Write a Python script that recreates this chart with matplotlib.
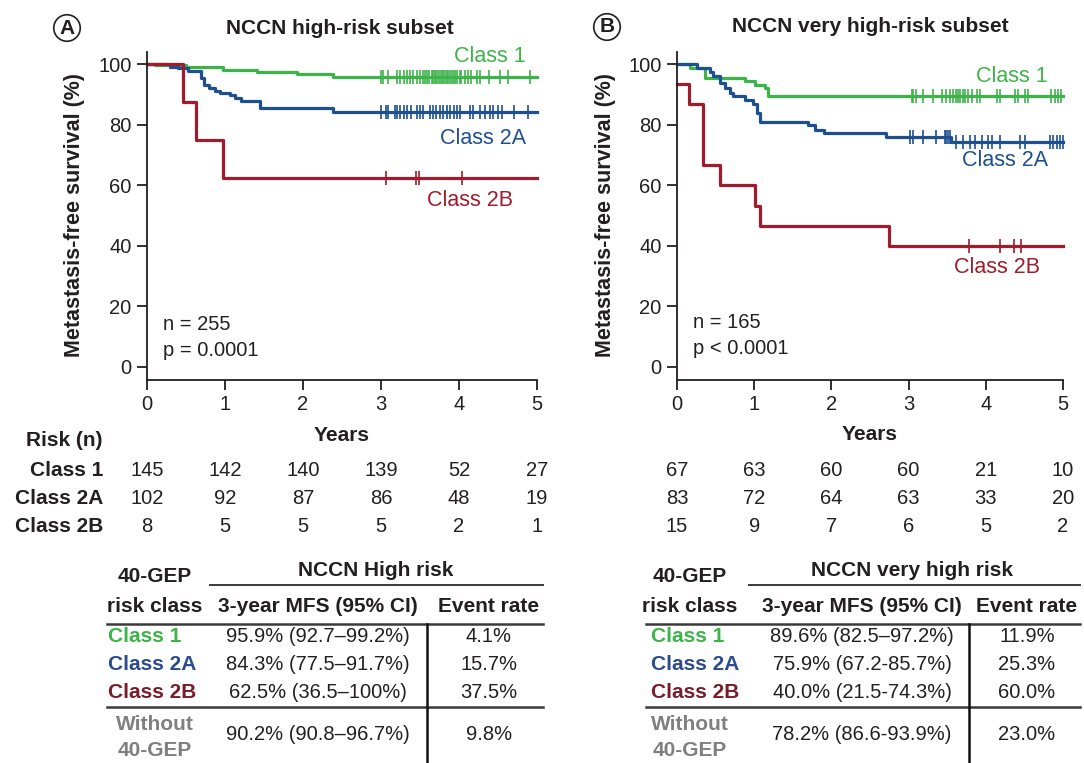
import numpy as np
import matplotlib
matplotlib.use("Agg")
import matplotlib.pyplot as plt
from matplotlib.lines import Line2D

plt.rcParams['font.family'] = ['Liberation Sans', 'DejaVu Sans']

W, H = 1084, 763
INK = '#231f20'
GREEN = '#3db449'
BLUE = '#1d4f91'
RED = '#a01c2c'
GRAY = '#7f7f7f'
FS = 14.5      # plain text
FB = 15        # bold text

# ---- Panel A: NCCN high-risk subset (survival curves)
a_c1_t = [0, 0.10, 0.50, 0.98, 1.41, 1.92, 2.39]
a_c1_s = [100, 99.6, 98.9, 98.2, 97.4, 96.7, 95.9]
a_c1_cens = [3.00, 3.03, 3.09, 3.20, 3.24, 3.29, 3.33, 3.37, 3.41, 3.46, 3.50, 3.54,
             3.57, 3.59, 3.62, 3.65, 3.67, 3.69, 3.71, 3.73, 3.76, 3.78, 3.80, 3.82,
             3.84, 3.86, 3.88, 3.91, 3.93, 3.95, 3.97, 4.01, 4.03, 4.08, 4.12, 4.16,
             4.23, 4.27, 4.38, 4.53, 4.63, 4.91]
a_c2a_t = [0, 0.29, 0.40, 0.53, 0.69, 0.73, 0.79, 0.87, 0.94, 1.06, 1.13, 1.21, 1.45, 2.39]
a_c2a_s = [100, 99.2, 98.6, 97.7, 95.3, 93.1, 92.0, 91.2, 90.5, 89.8, 88.9, 87.9, 85.6, 84.3]
a_c2a_cens = [3.00, 3.06, 3.09, 3.18, 3.21, 3.24, 3.29, 3.33, 3.39, 3.46, 3.50, 3.54,
              3.63, 3.67, 3.71, 3.76, 3.80, 3.84, 3.88, 3.93, 3.97, 4.01, 4.14, 4.18,
              4.27, 4.33, 4.40, 4.44, 4.50, 4.55, 4.70, 4.89]
a_c2b_t = [0, 0.46, 0.63, 0.98]
a_c2b_s = [100, 87.5, 75.0, 62.5]
a_c2b_cens = [3.06, 3.45, 3.49, 4.04]

# ---- Panel B: NCCN very high-risk subset
b_c1_t = [0, 0.17, 0.36, 0.88, 1.01, 1.14, 1.18]
b_c1_s = [100, 98.8, 95.5, 94.4, 93.0, 92.0, 89.6]
b_c1_cens = [3.04, 3.06, 3.10, 3.19, 3.32, 3.43, 3.49, 3.54, 3.58, 3.61, 3.64, 3.67,
             3.71, 3.73, 3.77, 3.82, 3.88, 3.92, 4.14, 4.18, 4.38, 4.42, 4.51, 4.55,
             4.85, 4.90, 4.94, 4.98]
b_c2a_t = [0, 0.255, 0.43, 0.47, 0.56, 0.62, 0.69, 0.73, 0.88, 0.99, 1.04, 1.08,
           1.70, 1.79, 1.90, 2.71, 3.55]
b_c2a_s = [100, 98.8, 97.5, 96.0, 93.8, 92.2, 90.5, 89.4, 88.3, 86.7, 83.9, 81.0,
           79.8, 78.4, 77.1, 76.0, 74.4]
b_c2a_cens = [3.02, 3.06, 3.19, 3.36, 3.47, 3.49, 3.51, 3.54, 3.62, 3.71, 3.80, 3.86,
              3.95, 4.03, 4.08, 4.18, 4.44, 4.51, 4.83, 4.87, 4.92, 4.96, 5.00]
b_c2b_t = [0, 0.15, 0.34, 0.56, 1.01, 1.07, 2.75]
b_c2b_s = [93.3, 86.7, 66.7, 60.0, 53.3, 46.7, 40.0]
b_c2b_cens = [3.78, 4.18, 4.36, 4.45]

# numbers at risk
years = [0, 1, 2, 3, 4, 5]
a_risk = {'Class 1': [145, 142, 140, 139, 52, 27],
          'Class 2A': [102, 92, 87, 86, 48, 19],
          'Class 2B': [8, 5, 5, 5, 2, 1]}
b_risk = {'Class 1': [67, 63, 60, 60, 21, 10],
          'Class 2A': [83, 72, 64, 63, 33, 20],
          'Class 2B': [15, 9, 7, 6, 5, 2]}

# summary tables
row_names = ['Class 1', 'Class 2A', 'Class 2B']
a_mfs = ['95.9% (92.7–99.2%)', '84.3% (77.5–91.7%)', '62.5% (36.5–100%)']
a_evt = ['4.1%', '15.7%', '37.5%']
a_all = ['90.2% (90.8–96.7%)', '9.8%']
b_mfs = ['89.6% (82.5–97.2%)', '75.9% (67.2-85.7%)', '40.0% (21.5-74.3%)']
b_evt = ['11.9%', '25.3%', '60.0%']
b_all = ['78.2% (86.6-93.9%)', '23.0%']

fig = plt.figure(figsize=(W / 100, H / 100), dpi=100)


def ftxt(x, y, s, **kw):
    kw.setdefault('va', 'center')
    kw.setdefault('color', INK)
    kw.setdefault('fontsize', FS)
    fig.text(x / W, 1 - y / H, s, **kw)


def btxt(x, y, s, **kw):
    kw.setdefault('fontsize', FB)
    ftxt(x, y, s, fontweight='bold', **kw)


def fline(x0, x1, y0, y1, lw=1.6, color='#3a3a3a'):
    fig.add_artist(Line2D([x0 / W, x1 / W], [1 - y0 / H, 1 - y1 / H],
                          transform=fig.transFigure, lw=lw, color=color))


def step_at(t, s, c):
    idx = np.searchsorted(t, c, side='right') - 1
    return np.asarray(s)[idx]


def km(ax, t, s, cens, color):
    tt = np.append(t, 5.0)
    ss = np.append(s, s[-1])
    ax.step(tt, ss, where='post', color=color, lw=2.3, clip_on=False)
    ax.plot(cens, step_at(t, s, cens), ls='none', marker='|', ms=10, mew=1.2,
            color=color, clip_on=False)


def setup(ax):
    ax.set_xlim(0, 5)
    ax.set_ylim(-4.3, 104)
    ax.set_yticks([0, 20, 40, 60, 80, 100])
    ax.set_xticks(years)
    for sp in ['top', 'right']:
        ax.spines[sp].set_visible(False)
    for sp in ['left', 'bottom']:
        ax.spines[sp].set_linewidth(1.3)
        ax.spines[sp].set_color(INK)
    ax.tick_params(direction='out', length=7, width=1.3, labelsize=FS,
                   colors=INK, pad=4)


axA = fig.add_axes([147 / W, 1 - 380 / H, 390 / W, 328 / H])
axB = fig.add_axes([677 / W, 1 - 380 / H, 386 / W, 328 / H])
for ax in (axA, axB):
    setup(ax)

km(axA, a_c1_t, a_c1_s, a_c1_cens, GREEN)
km(axA, a_c2a_t, a_c2a_s, a_c2a_cens, BLUE)
km(axA, a_c2b_t, a_c2b_s, a_c2b_cens, RED)
km(axB, b_c1_t, b_c1_s, b_c1_cens, GREEN)
km(axB, b_c2a_t, b_c2a_s, b_c2a_cens, BLUE)
km(axB, b_c2b_t, b_c2b_s, b_c2b_cens, RED)

# panel headers
for x, y, letter, title, tx in [(67, 28, 'A', 'NCCN high-risk subset', 340),
                                (607, 27, 'B', 'NCCN very high-risk subset', 870)]:
    btxt(x, y, letter, ha='center', fontsize=15,
         bbox=dict(boxstyle='circle,pad=0.18', fc='white', ec=INK, lw=1.2))
    btxt(tx, y, title, ha='center')

# axis labels
for x in (75, 605):
    btxt(x, 215, 'Metastasis-free survival (%)', ha='center', rotation=90,
         fontsize=15.5)
btxt(342, 435, 'Years', ha='center')
btxt(870, 434, 'Years', ha='center')

# curve labels
ftxt(490, 57, 'Class 1', ha='center', color=GREEN, fontsize=15.5)
ftxt(483, 138, 'Class 2A', ha='center', color=BLUE, fontsize=15.5)
ftxt(470, 200, 'Class 2B', ha='center', color=RED, fontsize=15.5)
ftxt(1012, 77, 'Class 1', ha='center', color=GREEN, fontsize=15.5)
ftxt(1005, 160, 'Class 2A', ha='center', color=BLUE, fontsize=15.5)
ftxt(997, 268, 'Class 2B', ha='center', color=RED, fontsize=15.5)

# n / p
ftxt(163, 325, 'n = 255', ha='left')
ftxt(163, 350, 'p = 0.0001', ha='left')
ftxt(693, 323, 'n = 165', ha='left')
ftxt(693, 349, 'p < 0.0001', ha='left')

# numbers at risk
row_y = [470, 498, 527]
btxt(103, 441, 'Risk (n)', ha='right')
for name, y in zip(row_names, row_y):
    btxt(103, y, name, ha='right')
for ax, risk in ((axA, a_risk), (axB, b_risk)):
    for name, y in zip(row_names, row_y):
        for yr, n in zip(years, risk[name]):
            xpix = ax.transData.transform((yr, 0))[0]
            ftxt(xpix, y, str(n), ha='center')

# summary tables
label_cols = [GREEN, '#2a4b8d', '#7a1b2b']
rows_y = [637, 665, 692]
for (x0, x1, xl, xc, xm, xe, xv, xt, title, mfs, evt, allr) in [
        (107, 543, 108, 155, 318, 489, 427, 376, 'NCCN High risk', a_mfs, a_evt, a_all),
        (646, 1080, 651, 690, 862, 1027, 969, 912, 'NCCN very high risk', b_mfs, b_evt, b_all)]:
    btxt(xc, 577, '40-GEP', ha='center')
    btxt(xc, 606, 'risk class', ha='center')
    btxt(xt, 570, title, ha='center')
    fline(x0 + 103, x1, 585, 585, lw=1.4)
    btxt(xm, 607, '3-year MFS (95% CI)', ha='center')
    btxt(xe, 606, 'Event rate', ha='center')
    fline(x0, x1, 624, 624, lw=1.8)
    fline(x0, x1, 707, 707, lw=1.8)
    fline(xv, xv, 624, 763, lw=1.8, color='#111111')
    for name, col, y, m, e in zip(row_names, label_cols, rows_y, mfs, evt):
        btxt(xl, y, name, ha='left', color=col)
        ftxt(xm, y, m, ha='center')
        ftxt(xe, y, e, ha='center')
    btxt(xc, 724, 'Without', ha='center', color=GRAY)
    btxt(xc, 750, '40-GEP', ha='center', color=GRAY)
    ftxt(xm, 735, allr[0], ha='center')
    ftxt(xe, 735, allr[1], ha='center')

fig.savefig('out.png', dpi=100)
